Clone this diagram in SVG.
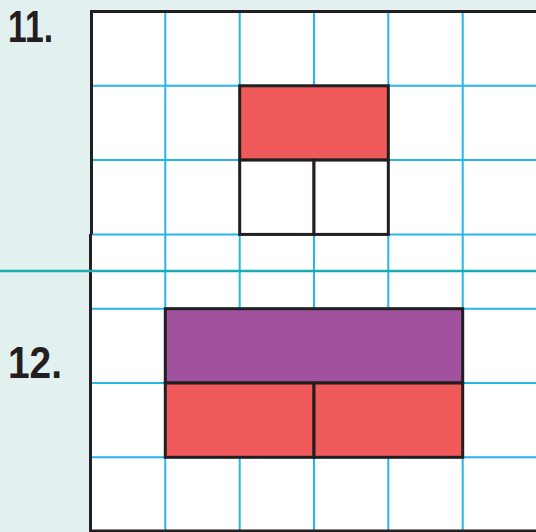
<svg xmlns="http://www.w3.org/2000/svg" width="536" height="532" viewBox="0 0 536 532">
<style>
.grid{stroke:#27b5ea;stroke-width:2;fill:none}
.border{stroke:#231f20;stroke-width:3;fill:none}
.box{stroke:#231f20;stroke-width:3}
.red{fill:#f05a5b}
.purple{fill:#a0529f}
.white{fill:#ffffff}
.label{font-family:"Liberation Sans",Arial,sans-serif;font-weight:bold;font-size:44px;fill:#231f20}
</style>
<rect x="0" y="0" width="536" height="532" fill="#e2f1f0"/>
<rect x="91" y="11.5" width="446" height="520" fill="#ffffff"/>
<g id="grid" class="grid">
<path d="M165.3 11.5V531.5M239.7 11.5V531.5M314 11.5V531.5M388.3 11.5V531.5M462.7 11.5V531.5"/>
<path d="M91 85.8H537M91 160.1H537M91 234.4H537M91 308.7H537M91 383H537M91 457.3H537"/>
</g>
<g id="frame" class="border">
<path d="M91.5 234V11.5H537"/>
<path d="M90.5 234V531H537"/>
</g>
<g id="problem11">
<rect id="p11-top" class="box red" x="239.7" y="85.8" width="148.6" height="74.3"/>
<rect id="p11-left" class="box white" x="239.7" y="160.1" width="74.3" height="74.3"/>
<rect id="p11-right" class="box white" x="314" y="160.1" width="74.3" height="74.3"/>
</g>
<g id="problem12">
<rect id="p12-top" class="box purple" x="165.3" y="308.7" width="297.4" height="74.3"/>
<rect id="p12-left" class="box red" x="165.3" y="383" width="148.7" height="74.3"/>
<rect id="p12-right" class="box red" x="314" y="383" width="148.7" height="74.3"/>
</g>
<line x1="0" y1="271" x2="536" y2="271" stroke="#1aacb0" stroke-width="2.5"/>
<text class="label" x="8" y="42" textLength="45" lengthAdjust="spacingAndGlyphs">11.</text>
<text class="label" x="8" y="378" textLength="54" lengthAdjust="spacingAndGlyphs">12.</text>
</svg>
